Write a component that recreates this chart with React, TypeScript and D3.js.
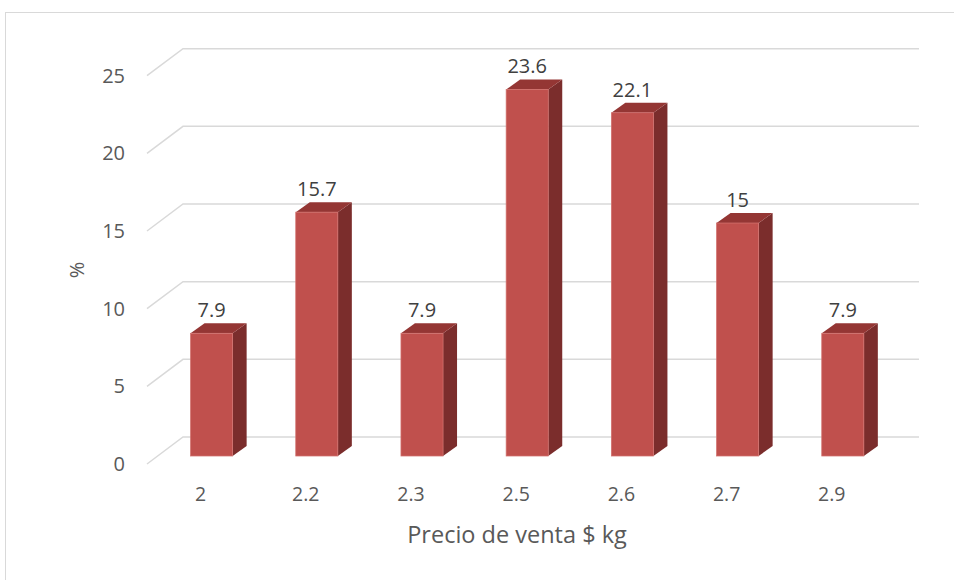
import { useMemo } from "react";
import * as d3 from "d3";

const categories = ["2", "2.2", "2.3", "2.5", "2.6", "2.7", "2.9"];
const values = [7.9, 15.7, 7.9, 23.6, 22.1, 15, 7.9];
const yTicks = [0, 5, 10, 15, 20, 25];

const WIDTH = 954;
const HEIGHT = 580;
const FONT = "'Open Sans', 'Liberation Sans', sans-serif";

// 3D offsets (bar plane -> front floor edge / back wall)
const FRONT = { dx: -11, dy: 8 };
const BACK = { dx: 25, dy: -19 };
const BAR_DEPTH = { dx: 14, dy: -10 };

export default function App() {
  const xScale = useMemo(
    () =>
      d3
        .scaleBand<string>()
        .domain(categories)
        .range([159, 895.4])
        .paddingInner(0.6)
        .paddingOuter(0.3),
    []
  );

  const yScale = useMemo(
    () => d3.scaleLinear().domain([0, 25]).range([456, 67.7]),
    []
  );

  const gridLeft = 158 + FRONT.dx;
  const gridRight = 919;

  const grid = yTicks.map((t) => {
    const y = yScale(t);
    const d = `M${gridLeft},${y + FRONT.dy}L${gridLeft + (BACK.dx - FRONT.dx)},${
      y + BACK.dy
    }L${gridRight},${y + BACK.dy}`;
    return (
      <g key={t}>
        <path d={d} fill="none" stroke="#d9d9d9" strokeWidth={1.5} />
        <text
          x={125}
          y={y + FRONT.dy}
          dy="0.35em"
          textAnchor="end"
          fontSize={20}
          fill="#595959"
          fontFamily={FONT}
        >
          {t}
        </text>
      </g>
    );
  });

  const bars = categories.map((c, i) => {
    const x0 = xScale(c) ?? 0;
    const w = xScale.bandwidth();
    const x1 = x0 + w;
    const yb = yScale(0);
    const yt = yScale(values[i]);
    const { dx, dy } = BAR_DEPTH;
    return (
      <g key={c}>
        <path
          d={`M${x1},${yb}L${x1 + dx},${yb + dy}L${x1 + dx},${yt + dy}L${x1},${yt}Z`}
          fill="#7b2d2c"
        />
        <path
          d={`M${x0},${yt}L${x1},${yt}L${x1 + dx},${yt + dy}L${x0 + dx},${yt + dy}Z`}
          fill="#943634"
        />
        <rect
          x={x0}
          y={yt}
          width={w}
          height={yb - yt}
          fill="#c0504d"
          stroke="#d2716e"
          strokeWidth={0.75}
        />
        <text
          x={x0 + w / 2}
          y={yt + dy - 6}
          textAnchor="middle"
          fontSize={20}
          fill="#404040"
          fontFamily={FONT}
        >
          {values[i]}
        </text>
        <text
          x={x0 + w / 2 - 11}
          y={494}
          dy="0.35em"
          textAnchor="middle"
          fontSize={19.5}
          fill="#595959"
          fontFamily={FONT}
        >
          {c}
        </text>
      </g>
    );
  });

  return (
    <svg
      width={WIDTH}
      height={HEIGHT}
      style={{ position: "absolute", left: 0, top: 0, background: "#fff" }}
    >
      <rect
        x={5.5}
        y={12.5}
        width={1000}
        height={1000}
        fill="#fff"
        stroke="#d9d9d9"
        strokeWidth={1}
      />
      {grid}
      {bars}
      <text
        transform="translate(77,270) rotate(-90)"
        textAnchor="middle"
        dy="0.35em"
        fontSize={20}
        fill="#595959"
        fontFamily={FONT}
      >
        %
      </text>
      <text
        x={517}
        y={543}
        textAnchor="middle"
        fontSize={23.5}
        fill="#595959"
        fontFamily={FONT}
      >
        Precio de venta $ kg
      </text>
    </svg>
  );
}
